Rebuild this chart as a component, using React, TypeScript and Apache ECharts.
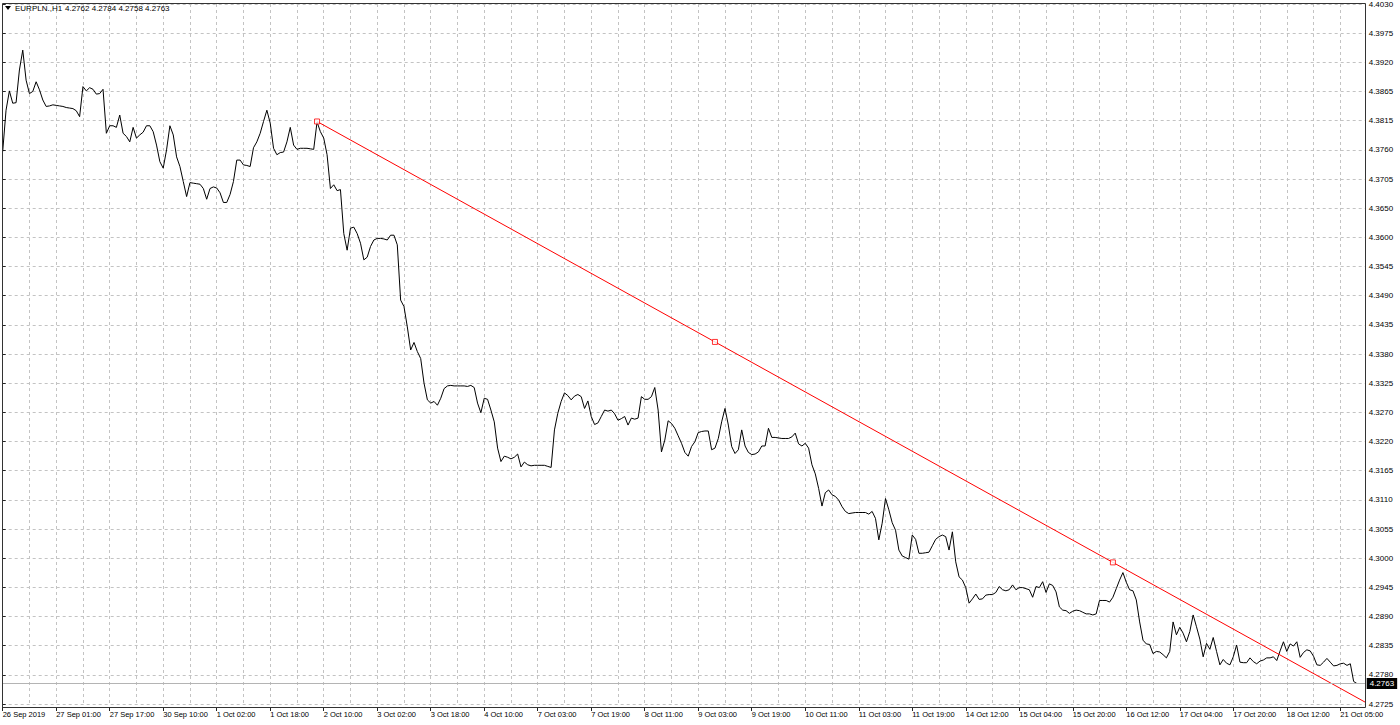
import React, { useEffect, useRef } from "react";
import * as echarts from "echarts";

// ---- data (hourly closes, EURPLN H1, bar index 0 = 26 Sep 2019 09:00) ----
const SYMBOL = "EURPLN.,H1";
const LAST_OHLC = [4.2762, 4.2784, 4.2758, 4.2763];
const LAST_PRICE = 4.2763;

const closeWeek1 = [
  4.3755, 4.3832, 4.3868, 4.3845, 4.3846, 4.3907, 4.3944, 4.3888, 4.3863, 4.3867,
  4.3885, 4.3870, 4.3851, 4.3839, 4.3840, 4.3842, 4.3841, 4.3840, 4.3839, 4.3837,
  4.3836, 4.3835, 4.3831, 4.3820, 4.3876, 4.3868, 4.3874, 4.3871, 4.3862, 4.3863,
  4.3871, 4.3789, 4.3803, 4.3803, 4.3800, 4.3823, 4.3789, 4.3783, 4.3773, 4.3800,
  4.3780, 4.3786, 4.3791, 4.3803, 4.3803, 4.3792, 4.3767, 4.3736, 4.3724, 4.3758,
  4.3803, 4.3786, 4.3745, 4.3727, 4.3699, 4.3671, 4.3697, 4.3696, 4.3695, 4.3694,
  4.3686, 4.3666, 4.3686, 4.3689, 4.3687, 4.3678, 4.3660, 4.3660,
];
const closeWeek2a = [
  4.3675, 4.3699, 4.3739, 4.3739, 4.3730, 4.3729, 4.3727, 4.3762, 4.3773, 4.3789,
  4.3811, 4.3832, 4.3808, 4.3761, 4.3749, 4.3753, 4.3754, 4.3773, 4.3800, 4.3767,
  4.3759, 4.3761, 4.3761, 4.3761, 4.3760, 4.3759, 4.3810, 4.3792, 4.3780, 4.3749,
  4.3686, 4.3693, 4.3682, 4.3684, 4.3602, 4.3571, 4.3612, 4.3614, 4.3602, 4.3584,
  4.3553, 4.3558, 4.3578, 4.3590, 4.3593, 4.3593, 4.3592, 4.3590, 4.3599, 4.3599,
  4.3581, 4.3478, 4.3466, 4.3428, 4.3385, 4.3399, 4.3382, 4.3369, 4.3323, 4.3292,
  4.3286, 4.3289, 4.3282, 4.3295, 4.3313, 4.3318,
];
const closeWeek2b = [
  4.3319, 4.3318, 4.3318, 4.3318, 4.3318, 4.3317, 4.3319, 4.3315, 4.3286, 4.3268,
  4.3295, 4.3293, 4.3273, 4.3251, 4.3202, 4.3177, 4.3187, 4.3185, 4.3182, 4.3185,
  4.3191, 4.3167, 4.3176, 4.3171, 4.3169, 4.3170, 4.3170, 4.3170, 4.3170, 4.3168,
  4.3166, 4.3236, 4.3267, 4.3289, 4.3305, 4.3300, 4.3292, 4.3299, 4.3302, 4.3298,
  4.3276, 4.3290, 4.3261, 4.3246, 4.3249, 4.3261, 4.3273, 4.3271, 4.3273, 4.3266,
  4.3254, 4.3257, 4.3261, 4.3245, 4.3258, 4.3256, 4.3258, 4.3298, 4.3293, 4.3293,
  4.3298, 4.3315, 4.3273, 4.3195, 4.3217, 4.3253, 4.3248, 4.3239,
];
const closeWeek3 = [
  4.3225, 4.3211, 4.3194, 4.3187, 4.3205, 4.3214, 4.3231, 4.3233, 4.3234, 4.3234,
  4.3199, 4.3202, 4.3220, 4.3251, 4.3276, 4.3245, 4.3205, 4.3192, 4.3199, 4.3236,
  4.3206, 4.3194, 4.3190, 4.3191, 4.3195, 4.3206, 4.3206, 4.3239, 4.3222, 4.3222,
  4.3221, 4.3220, 4.3220, 4.3220, 4.3223, 4.3230, 4.3210, 4.3206, 4.3211, 4.3202,
  4.3171, 4.3154, 4.3127, 4.3094, 4.3119, 4.3124, 4.3115, 4.3112, 4.3105, 4.3093,
  4.3084, 4.3080, 4.3081, 4.3082, 4.3082, 4.3082, 4.3082, 4.3079, 4.3084, 4.3071,
  4.3031, 4.3062, 4.3108, 4.3087, 4.3063, 4.3049, 4.3012,
];
const closeWeek4 = [
  4.3001, 4.2998, 4.2995, 4.3040, 4.3032, 4.3006, 4.3006, 4.3007, 4.3008, 4.3020,
  4.3032, 4.3037, 4.3040, 4.3037, 4.3012, 4.3046, 4.2990, 4.2962, 4.2956, 4.2942,
  4.2913, 4.2921, 4.2930, 4.2920, 4.2921, 4.2928, 4.2929, 4.2929, 4.2933, 4.2944,
  4.2938, 4.2936, 4.2938, 4.2947, 4.2938, 4.2942, 4.2942, 4.2940, 4.2938, 4.2924,
  4.2944, 4.2942, 4.2953, 4.2933, 4.2949, 4.2946, 4.2934, 4.2906, 4.2900, 4.2899,
  4.2894, 4.2898, 4.2900, 4.2899, 4.2896, 4.2893, 4.2893, 4.2891, 4.2893, 4.2918,
  4.2918, 4.2918, 4.2915, 4.2924, 4.2940, 4.2956, 4.2970,
];
const closeWeek5 = [
  4.2952, 4.2938, 4.2936, 4.2919, 4.2878, 4.2844, 4.2837, 4.2836, 4.2819, 4.2823,
  4.2822, 4.2817, 4.2811, 4.2823, 4.2878, 4.2854, 4.2868, 4.2857, 4.2841, 4.2860,
  4.2891, 4.2869, 4.2846, 4.2813, 4.2838, 4.2827, 4.2849, 4.2823, 4.2798, 4.2808,
  4.2801, 4.2798, 4.2813, 4.2835, 4.2803, 4.2802, 4.2802, 4.2811, 4.2804, 4.2800,
  4.2805, 4.2807, 4.2811, 4.2811, 4.2813, 4.2806, 4.2824, 4.2841, 4.2823, 4.2837,
  4.2833, 4.2841, 4.2812, 4.2821, 4.2826, 4.2824, 4.2814, 4.2798, 4.2797, 4.2803,
  4.2810, 4.2803, 4.2796, 4.2797, 4.2800, 4.2801, 4.2797, 4.2800, 4.2767, 4.2763,
];

// x tick labels: one every 16 bars, starting at bar 0
const xLabels = [
  "26 Sep 2019", "27 Sep 01:00", "27 Sep 17:00", "30 Sep 10:00", "1 Oct 02:00",
  "1 Oct 18:00", "2 Oct 10:00", "3 Oct 02:00", "3 Oct 18:00", "4 Oct 10:00",
  "7 Oct 03:00", "7 Oct 19:00", "8 Oct 11:00", "9 Oct 03:00", "9 Oct 19:00",
  "10 Oct 11:00", "11 Oct 03:00", "11 Oct 19:00", "14 Oct 12:00", "15 Oct 04:00",
  "15 Oct 20:00", "16 Oct 12:00", "17 Oct 04:00", "17 Oct 20:00", "18 Oct 12:00",
  "21 Oct 05:00",
];
// y tick labels from bottom to top
const yLabels = [
  "4.2725", "4.2780", "4.2835", "4.2890", "4.2945", "4.3000", "4.3055", "4.3110",
  "4.3165", "4.3220", "4.3270", "4.3325", "4.3380", "4.3435", "4.3490", "4.3545",
  "4.3600", "4.3650", "4.3705", "4.3760", "4.3815", "4.3865", "4.3920", "4.3975",
  "4.4030",
];
// trend line anchors: [bar index, price]
const trendAnchors = [
  [94, 4.3811],
  [332, 4.2989],
];

const Y_MIN = 4.2725;
const Y_MAX = 4.403;
const Y_STEP = (Y_MAX - Y_MIN) / (yLabels.length - 1);
const X_MAX = 407.6;
const X_LABEL_STEP = 16;

const FONT = "'Liberation Sans', Arial, sans-serif";
const GRID_COLOR = "#c3c3c3";

export default function App() {
  const ref = useRef<HTMLDivElement>(null);

  useEffect(() => {
    if (!ref.current) return;
    const chart = echarts.init(ref.current, null, { renderer: "svg" });

    const closes = [
      ...closeWeek1,
      ...closeWeek2a,
      ...closeWeek2b,
      ...closeWeek3,
      ...closeWeek4,
      ...closeWeek5,
    ];
    const lineData = closes.map((v, i) => [i, v]);

    const [a, b] = trendAnchors;
    const slope = (b[1] - a[1]) / (b[0] - a[0]);
    const trendData = [
      [a[0], a[1]],
      [b[0], b[1]],
      [X_MAX, b[1] + slope * (X_MAX - b[0])],
    ];
    const mid = [(a[0] + b[0]) / 2, (a[1] + b[1]) / 2];

    const option: any = {
      animation: false,
      backgroundColor: "#ffffff",
      textStyle: { fontFamily: FONT },
      grid: {
        left: 2.7,
        right: 34.3,
        top: 4,
        bottom: 21,
        containLabel: false,
        outerBoundsMode: "none",
      },
      xAxis: [
        {
          type: "value",
          min: 0,
          max: X_MAX,
          interval: X_LABEL_STEP,
          position: "bottom",
          offset: 3,
          axisLine: { show: false },
          axisTick: { show: true, length: 4, lineStyle: { color: "#222" } },
          axisLabel: {
            show: true,
            color: "#000",
            fontSize: 7.5,
            fontFamily: FONT,
            align: "left",
            margin: 3,
            showMinLabel: true,
            showMaxLabel: false,
            hideOverlap: false,
            formatter: (v: number) => {
              const k = Math.round(v / X_LABEL_STEP);
              if (Math.abs(v - k * X_LABEL_STEP) > 1e-6) return "";
              return xLabels[k] ?? "";
            },
          },
          splitLine: { show: false },
        },
        {
          type: "value",
          min: 0,
          max: X_MAX,
          interval: X_LABEL_STEP / 2,
          position: "top",
          axisLine: { show: false },
          axisTick: { show: false },
          axisLabel: { show: false },
          splitLine: {
            show: true,
            lineStyle: { color: GRID_COLOR, type: [3, 3], width: 1 },
          },
        },
      ],
      yAxis: {
        type: "value",
        position: "right",
        min: Y_MIN,
        max: Y_MAX,
        interval: Y_STEP,
        scale: true,
        axisLine: { show: false },
        axisTick: { show: true, length: 3, lineStyle: { color: "#222" } },
        axisLabel: {
          show: true,
          color: "#000",
          fontSize: 8,
          fontFamily: FONT,
          margin: 3,
          showMinLabel: true,
          showMaxLabel: true,
          formatter: (v: number) => {
            const k = Math.round((v - Y_MIN) / Y_STEP);
            return yLabels[k] ?? "";
          },
        },
        splitLine: {
          show: true,
          lineStyle: { color: GRID_COLOR, type: [3, 3], width: 1 },
        },
      },
      series: [
        {
          name: "close",
          type: "line",
          xAxisIndex: 0,
          data: lineData,
          showSymbol: false,
          symbol: "none",
          lineStyle: { color: "#000", width: 1 },
          silent: true,
          z: 3,
          markLine: {
            silent: true,
            symbol: "none",
            animation: false,
            precision: 4,
            lineStyle: { color: "#b4b4b4", type: "solid", width: 1 },
            label: {
              show: true,
              position: "end",
              distance: 1,
              formatter: LAST_PRICE.toFixed(4),
              backgroundColor: "#000",
              color: "#fff",
              fontSize: 8,
              fontFamily: FONT,
              padding: [2, 3, 1, 3],
            },
            data: [{ yAxis: LAST_PRICE }],
          },
        },
        {
          name: "trend",
          type: "line",
          xAxisIndex: 0,
          data: trendData,
          showSymbol: false,
          symbol: "none",
          lineStyle: { color: "#ff0000", width: 1 },
          silent: true,
          z: 4,
        },
        {
          name: "trendPoints",
          type: "scatter",
          xAxisIndex: 0,
          data: [a, mid, b],
          symbol: "rect",
          symbolSize: 5,
          itemStyle: { color: "#ffffff", borderColor: "#ff0000", borderWidth: 1 },
          silent: true,
          z: 5,
        },
      ],
      graphic: [
        {
          type: "rect",
          shape: { x: 2.5, y: 3.5, width: 1363, height: 704 },
          style: { fill: "none", stroke: "#333", lineWidth: 1 },
          silent: true,
          z: 10,
        },
        {
          type: "polygon",
          shape: { points: [[5, 6], [11, 6], [8, 10]] },
          style: { fill: "#000" },
          silent: true,
          z: 11,
        },
        {
          type: "text",
          x: 15,
          y: 8,
          style: {
            text: SYMBOL,
            fill: "#000",
            font: `8px ${FONT}`,
            textVerticalAlign: "middle",
            verticalAlign: "middle",
          },
          silent: true,
          z: 11,
        },
        {
          type: "text",
          x: 65,
          y: 8,
          style: {
            text: LAST_OHLC.map((v) => v.toFixed(4)).join(" "),
            fill: "#000",
            font: `8px ${FONT}`,
            textVerticalAlign: "middle",
            verticalAlign: "middle",
          },
          silent: true,
          z: 11,
        },
      ],
    };

    chart.setOption(option);
    return () => chart.dispose();
  }, []);

  return (
    <div
      ref={ref}
      style={{ position: "absolute", left: 0, top: 0, width: 1400, height: 725 }}
    />
  );
}
